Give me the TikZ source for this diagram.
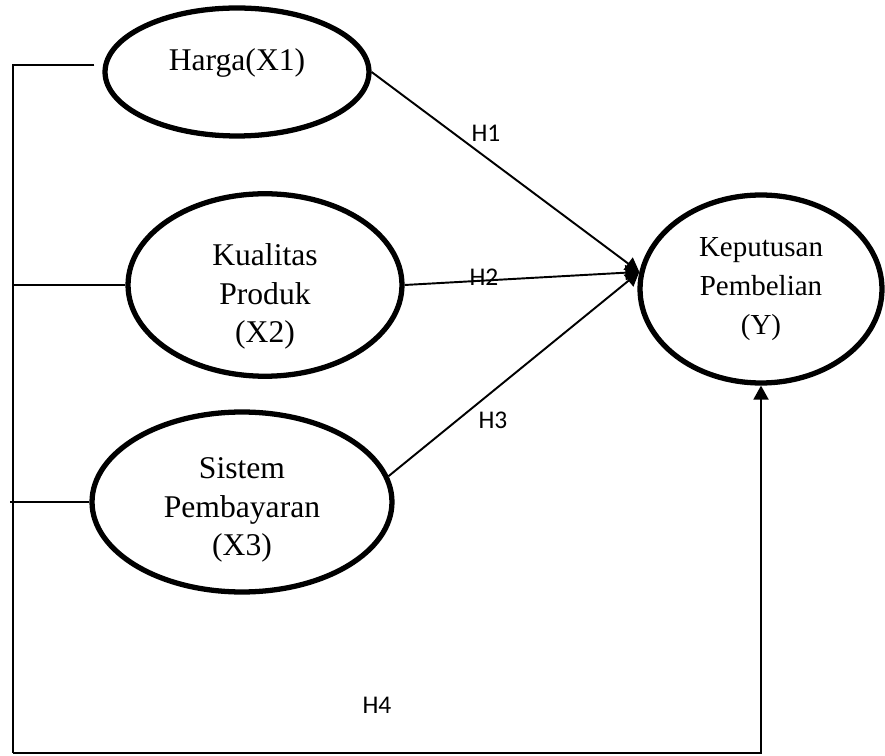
\documentclass[tikz,border=0pt]{standalone}
\usepackage{fontspec}
\setmainfont{Liberation Serif}
\newfontfamily\hfont{Carlito}
\usetikzlibrary{arrows.meta, shapes.geometric, positioning, calc}

\begin{document}
\begin{tikzpicture}[x=0.02cm, y=-0.02cm,
	var/.style={draw, ellipse, line width=3pt, inner sep=0pt, align=center,
		font=\fontsize{18}{22}\selectfont},
	arr/.style={line width=1.1pt, -{Triangle[length=0.28cm, width=0.3cm]}},
	hyp/.style={font=\hfont\fontsize{14.5}{17}\selectfont}]
	\useasboundingbox (0,0) rectangle (885,756);
	% variabel
	\node[var, minimum width=5.28cm, minimum height=2.56cm] (harga) at (237,72) {Harga(X1)\rule[-0.5cm]{0pt}{0.1cm}};
	\node[var, minimum width=5.48cm, minimum height=3.6cm] (kualitas) at (265,285) {\rule{0pt}{0.9cm}Kualitas\\Produk\\(X2)};
	\node[var, minimum width=6cm, minimum height=3.6cm] (sistem) at (242,502) {\rule{0pt}{0.74cm}Sistem\\Pembayaran\\(X3)};
	\node[var, minimum width=4.84cm, minimum height=3.76cm, font=\fontsize{16.5}{22}\selectfont] (keputusan) at (761,289) {Keputusan\\Pembelian\\(Y)};
	% hipotesis
	\draw[arr] (harga.east) -- (keputusan.172);
	\draw[arr] (kualitas.east) -- (keputusan.172);
	\draw[arr] (sistem.10) -- (keputusan.172);
	\node[hyp] (h1) at (486,133) {H1};
	\node[hyp] (h2) at (484,277) {H2};
	\node[hyp] (h3) at (493,420) {H3};
	% simultan
	\coordinate (atas) at (13,65);
	\coordinate (bawah) at (13,753);
	\draw[line width=1.1pt, shorten <=0.16cm] (harga.west |- atas) -- (atas) -- (bawah);
	\draw[line width=1.1pt] (kualitas.west) -- (kualitas.west -| atas);
	\draw[line width=1.1pt] (sistem.west) -- ($(sistem.west -| atas)+(-3,0)$);
	\draw[arr] (bawah) -| (keputusan.south);
	\node[hyp] (h4) at (377,705) {H4};
\end{tikzpicture}
\end{document}
